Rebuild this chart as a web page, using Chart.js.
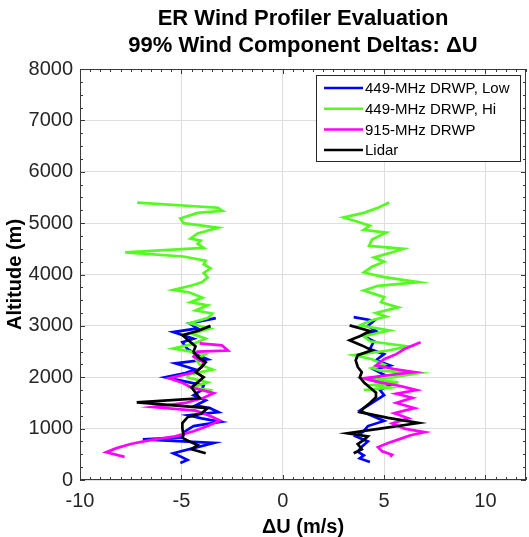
<!DOCTYPE html>
<html>
<head>
<meta charset="utf-8">
<script src="https://cdn.jsdelivr.net/npm/chart.js@4.4.0/dist/chart.umd.min.js"></script>
<style>
html, body { margin: 0; padding: 0; background: #fff; }
#wrap { width: 529px; height: 537px; }
</style>
</head>
<body>
<div id="wrap"><canvas id="windChart" width="529" height="537"></canvas></div>
<script>
// ER wind profiler - 99% deltas of U component, altitude (m) vs dU (m/s)
const seriesNames = ['449-MHz DRWP, Low', '449-MHz DRWP, Hi', '915-MHz DRWP', 'Lidar'];
const seriesColors = ['#0000ff', '#55fa20', '#ff00ff', '#000000'];

const xTicks = [-10, -5, 0, 5, 10];
const yTicks = [0, 1000, 2000, 3000, 4000, 5000, 6000, 7000, 8000];

// 449 low - negative side / positive side
const lowLeftAlt = [330, 390, 450, 520, 620, 720, 790, 830, 950, 1050, 1130, 1200, 1260, 1320, 1400, 1450, 1550, 1650, 1750, 1840, 1900, 2000, 2080, 2150, 2270, 2350, 2450, 2550, 2680, 2750, 2880, 2950, 3050, 3150];
const lowLeftDu = [-5.05, -4.7, -5.0, -5.4, -4.4, -3.4, -6.9, -4.95, -4.8, -4.4, -3.07, -4.0, -4.65, -3.17, -3.6, -4.3, -3.8, -4.4, -4.0, -3.9, -4.6, -5.8, -4.8, -4.3, -5.3, -3.7, -4.3, -4.7, -4.95, -4.4, -5.4, -4.2, -4.6, -3.3];
const lowRightAlt = [350, 420, 480, 550, 650, 750, 850, 950, 1050, 1150, 1250, 1350, 1450, 1550, 1650, 1750, 1850, 1950, 2050, 2150, 2230, 2330, 2450, 2550, 2700, 2800, 2900, 3000, 3100, 3170];
const lowRightDu = [4.3, 3.8, 4.0, 3.7, 3.9, 4.2, 3.6, 4.0, 4.2, 5.0, 4.4, 3.8, 4.2, 4.6, 5.0, 4.8, 5.3, 4.3, 5.0, 4.5, 5.3, 4.6, 5.0, 4.3, 4.5, 4.0, 4.6, 4.2, 4.5, 3.5];

// 449 hi
const hiLeftAlt = [1700, 1750, 1800, 1900, 2000, 2050, 2150, 2250, 2350, 2450, 2560, 2650, 2750, 2850, 2950, 3050, 3150, 3240, 3300, 3400, 3460, 3550, 3650, 3700, 3790, 3850, 3940, 4030, 4120, 4200, 4270, 4350, 4430, 4520, 4600, 4660, 4700, 4800, 4910, 5000, 5090, 5200, 5240, 5300, 5400];
const hiLeftDu = [-3.7, -3.56, -4.5, -3.7, -4.7, -4.65, -3.45, -4.1, -4.3, -3.8, -5.4, -4.4, -3.8, -4.5, -3.6, -4.6, -3.7, -3.47, -4.3, -3.7, -4.55, -3.96, -4.6, -5.4, -4.45, -4.0, -3.7, -3.9, -3.56, -3.9, -3.8, -4.9, -7.77, -3.9, -4.2, -4.05, -4.55, -4.2, -3.2, -4.9, -5.05, -4.2, -2.97, -3.2, -7.18];
const hiRightAlt = [1750, 1800, 1850, 1900, 1950, 2000, 2080, 2130, 2180, 2250, 2350, 2430, 2520, 2600, 2700, 2800, 2910, 3010, 3110, 3180, 3250, 3360, 3460, 3560, 3690, 3780, 3850, 3950, 4040, 4150, 4250, 4330, 4420, 4500, 4560, 4680, 4815, 4870, 4950, 5050, 5110, 5200, 5300, 5400];
const hiRightDu = [4.0, 5.3, 4.45, 5.7, 4.4, 5.5, 6.73, 4.8, 4.4, 5.0, 4.4, 3.5, 5.2, 6.2, 4.3, 4.0, 5.25, 3.8, 4.4, 5.1, 4.6, 5.7, 4.85, 5.0, 4.0, 4.7, 6.7, 5.0, 4.0, 4.4, 5.0, 4.5, 5.3, 5.95, 4.26, 4.4, 5.1, 4.0, 4.3, 3.5, 3.0, 4.0, 4.7, 5.25];

// 915 MHz
const uhfLeftAlt = [450, 540, 620, 700, 770, 850, 950, 1050, 1160, 1250, 1350, 1420, 1500, 1600, 1690, 1800, 1900, 1980, 2100, 2200, 2290, 2400, 2500, 2520, 2620, 2660];
const uhfLeftDu = [-7.8, -8.7, -8.2, -7.5, -6.6, -5.3, -4.4, -3.7, -3.1, -3.6, -4.3, -6.4, -4.8, -3.9, -3.4, -4.5, -5.0, -5.6, -4.3, -4.0, -3.9, -4.4, -4.2, -2.7, -3.0, -4.1];
const uhfRightAlt = [450, 490, 560, 640, 720, 800, 870, 930, 1000, 1100, 1200, 1300, 1400, 1500, 1600, 1680, 1750, 1830, 1900, 1980, 2100, 2160, 2230, 2350, 2450, 2550, 2680];
const uhfRightDu = [5.3, 5.4, 4.9, 4.7, 5.2, 5.8, 6.3, 7.0, 6.0, 5.4, 6.2, 5.5, 6.5, 5.6, 6.4, 5.6, 6.6, 5.8, 4.8, 4.0, 6.5, 5.5, 4.6, 5.0, 5.6, 6.0, 6.8];

// lidar
const lidarLeftAlt = [520, 600, 680, 750, 820, 900, 1000, 1110, 1220, 1300, 1400, 1510, 1590, 1700, 1800, 1900, 2000, 2100, 2200, 2290, 2400, 2500, 2600, 2700, 2820, 2900, 3000];
const lidarLeftDu = [-3.8, -4.5, -4.2, -4.6, -4.95, -4.9, -4.95, -4.95, -4.7, -4.0, -3.7, -7.2, -4.1, -4.3, -4.5, -4.2, -3.9, -4.3, -4.0, -3.8, -4.2, -4.4, -4.3, -4.6, -4.95, -4.2, -3.56];
const lidarRightAlt = [520, 600, 700, 780, 850, 910, 1000, 1110, 1210, 1320, 1400, 1500, 1610, 1700, 1800, 1900, 2000, 2100, 2200, 2330, 2430, 2525, 2620, 2720, 2800, 2900, 3010];
const lidarRightDu = [3.5, 3.9, 3.7, 4.0, 4.2, 3.2, 4.8, 6.7, 5.2, 3.8, 4.0, 4.3, 4.6, 4.6, 4.3, 4.0, 3.8, 3.9, 3.7, 3.6, 3.7, 4.4, 3.9, 3.3, 3.8, 4.3, 3.3];

function pts(alt, du) {
    return alt.map((a, i) => ({ x: du[i], y: a }));
}

const segments = [
    [pts(lowLeftAlt, lowLeftDu), pts(lowRightAlt, lowRightDu)],
    [pts(hiLeftAlt, hiLeftDu), pts(hiRightAlt, hiRightDu)],
    [pts(uhfLeftAlt, uhfLeftDu), pts(uhfRightAlt, uhfRightDu)],
    [pts(lidarLeftAlt, lidarLeftDu), pts(lidarRightAlt, lidarRightDu)]
];

const datasets = [];
segments.forEach((seg, i) => {
    seg.forEach((data) => {
        datasets.push({
            label: seriesNames[i],
            data: data,
            showLine: true,
            borderColor: seriesColors[i],
            backgroundColor: seriesColors[i],
            borderWidth: 2.7,
            pointRadius: 0,
            tension: 0,
            order: 4 - i
        });
    });
});

const FONT = '"Liberation Sans", Arial, Helvetica, sans-serif';

// axes box, inward ticks, title, legend
const decorPlugin = {
    id: 'decor',
    afterDatasetsDraw(chart) {
        const ctx = chart.ctx;
        const a = chart.chartArea;
        const xs = chart.scales.x, ys = chart.scales.y;
        ctx.save();
        ctx.strokeStyle = '#3a3a3a';
        ctx.lineWidth = 1;
        ctx.strokeRect(a.left + 0.5, a.top + 0.5, a.right - a.left - 1, a.bottom - a.top - 1);
        ctx.beginPath();
        for (let v = -10; v <= 12; v += 0.5) {
            const px = Math.round(xs.getPixelForValue(v)) + 0.5;
            const len = (v % 5 === 0) ? 5 : 3;
            ctx.moveTo(px, a.bottom); ctx.lineTo(px, a.bottom - len);
            ctx.moveTo(px, a.top); ctx.lineTo(px, a.top + len);
        }
        for (let v = 0; v <= 8000; v += 250) {
            const py = Math.round(ys.getPixelForValue(v)) + 0.5;
            const len = (v % 1000 === 0) ? 5 : 3;
            ctx.moveTo(a.left, py); ctx.lineTo(a.left + len, py);
            ctx.moveTo(a.right, py); ctx.lineTo(a.right - len, py);
        }
        ctx.stroke();

        // legend
        const lx = 316, ly = 75, lw = 204, lh = 86;
        ctx.fillStyle = '#fff';
        ctx.fillRect(lx, ly, lw, lh);
        ctx.strokeStyle = '#262626';
        ctx.strokeRect(lx + 0.5, ly + 0.5, lw, lh);
        ctx.font = '15px ' + FONT;
        ctx.textBaseline = 'middle';
        ctx.textAlign = 'left';
        seriesNames.forEach((name, i) => {
            const y = 88 + i * 20.7;
            ctx.strokeStyle = seriesColors[i];
            ctx.lineWidth = 2.5;
            ctx.beginPath();
            ctx.moveTo(324, y); ctx.lineTo(363, y);
            ctx.stroke();
            ctx.fillStyle = '#000';
            ctx.fillText(name, 365, y + 1);
        });

        // title
        const cx = (a.left + a.right) / 2;
        ctx.font = 'bold 22px ' + FONT;
        ctx.textAlign = 'center';
        ctx.fillStyle = '#000';
        ctx.fillText('ER Wind Profiler Evaluation', cx, 19);
        ctx.fillText('99% Wind Component Deltas: \u0394U', cx, 46);
        ctx.restore();
    }
};

const ctx = document.getElementById('windChart').getContext('2d');
const windChart = new Chart(ctx, {
    type: 'scatter',
    data: { datasets: datasets },
    options: {
        responsive: false,
        animation: false,
        layout: { padding: { top: 69, right: 3, left: 0, bottom: 0 } },
        plugins: {
            legend: { display: false },
            tooltip: { enabled: false }
        },
        scales: {
            x: {
                type: 'linear',
                min: -10,
                max: 12,
                afterBuildTicks: s => { s.ticks = xTicks.map(v => ({ value: v })); },
                afterFit: s => { s.height = 57; },
                border: { display: false },
                grid: { color: '#dedede', lineWidth: 1, drawTicks: false },
                ticks: { font: { family: FONT, size: 20 }, color: '#262626', padding: 9, callback: v => String(v) },
                title: {
                    display: true,
                    text: '\u0394U (m/s)',
                    color: '#000',
                    font: { family: FONT, size: 20, weight: 'bold', lineHeight: 1 },
                    padding: { top: 0, bottom: 0 }
                }
            },
            y: {
                type: 'linear',
                min: 0,
                max: 8000,
                afterBuildTicks: s => { s.ticks = yTicks.map(v => ({ value: v })); },
                afterFit: s => { s.width = 80; },
                border: { display: false },
                grid: { color: '#dedede', lineWidth: 1, drawTicks: false },
                ticks: { font: { family: FONT, size: 20 }, color: '#262626', padding: 7, callback: v => String(v) },
                title: {
                    display: true,
                    text: 'Altitude (m)',
                    color: '#000',
                    font: { family: FONT, size: 20, weight: 'bold', lineHeight: 1.2 },
                    padding: { top: 3, bottom: 0 }
                }
            }
        }
    },
    plugins: [decorPlugin]
});
</script>
</body>
</html>
